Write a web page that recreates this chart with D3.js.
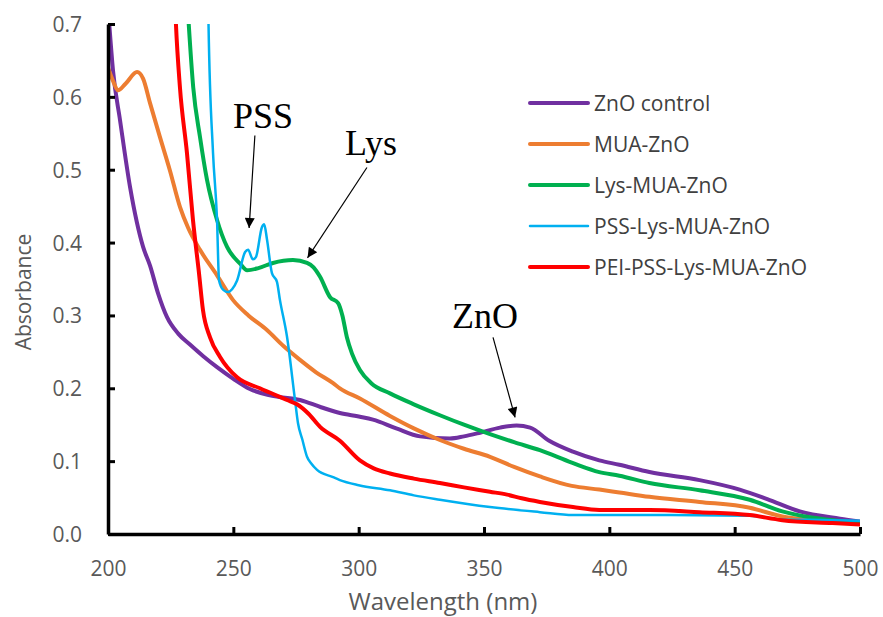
<!doctype html>
<html lang="en">
  <head>
    <meta charset="utf-8">
    <title>Absorbance spectra</title>
    <style>
    body { margin: 0; background: #fff; }
    .tick text { font-family: "Open Sans", sans-serif; fill: #595959; }
    .specLine { fill: none; stroke-linejoin: round; stroke-linecap: round; }
    </style>
  </head>
  <body>
    <div id="content"></div>

    <script src="https://d3js.org/d3.v7.min.js"></script>
    <script type="text/javascript">
    var w = 883;
    var h = 617;

    // wavelength (nm), absorbance pairs
    var znoControl = [[200.5,0.70],[202,0.636],[204.8,0.568],[208.8,0.476],[214,0.394],[216.8,0.368],[220,0.33],
      [223.5,0.298],[228,0.275],[232.7,0.260],[238,0.244],[243.5,0.229],[250,0.213],[256.6,0.199],[265,0.19],
      [276.6,0.184],[285,0.174],[292.5,0.166],[300.5,0.161],[305.7,0.157],[315,0.145],[324.5,0.134],[336.4,0.131],
      [342,0.134],[348.4,0.139],[356.4,0.146],[363,0.149],[368.4,0.146],[376,0.128],[385.5,0.113],[396,0.101],
      [404,0.095],[416,0.085],[436,0.074],[452,0.061],[463,0.048],[476,0.031],[492,0.021],[500,0.017]];

    var muaZno = [[200,0.64],[202,0.622],[204,0.609],[207,0.618],[211.6,0.634],[214,0.625],[216.8,0.591],
      [220.7,0.545],[224.7,0.499],[228.7,0.449],[232,0.42],[236.7,0.39],[243.5,0.355],[249.9,0.321],[256,0.30],
      [263.4,0.280],[270,0.258],[276.6,0.239],[283,0.222],[289.8,0.207],[292.5,0.200],[300.5,0.186],[312.5,0.162],
      [322,0.145],[332.4,0.129],[342,0.117],[352.4,0.106],[362,0.092],[372.3,0.079],[385,0.066],[396,0.061],
      [404,0.057],[416,0.051],[436,0.044],[456,0.036],[469,0.024],[480,0.019],[489,0.016],[500,0.015]];

    var lysMuaZno = [[230.8,0.78],[232.2,0.70],[234,0.613],[236.7,0.545],[239.5,0.486],[243.5,0.431],[247.5,0.394],
      [252.7,0.371],[255.5,0.362],[260,0.365],[265.8,0.372],[273.8,0.376],[279.4,0.372],[282,0.366],[284.6,0.353],
      [288.6,0.325],[291.8,0.317],[293.5,0.30],[295.3,0.27],[297.3,0.248],[300.5,0.225],[305,0.207],[312.5,0.193],
      [322,0.178],[332.4,0.163],[342,0.150],[352.4,0.137],[362,0.126],[372.3,0.115],[385,0.098],[396,0.085],
      [404,0.080],[416,0.070],[436,0.060],[456,0.047],[469,0.031],[480,0.023],[489,0.019],[500,0.015]];

    var pssLysMuaZno = [[239.8,0.78],[240.1,0.70],[241.9,0.523],[243.5,0.431],[244.3,0.348],[246,0.335],[247.9,0.332],
      [249.5,0.336],[251.5,0.348],[254.7,0.387],[255.9,0.390],[257.8,0.377],[259,0.38],[261.4,0.421],[262.3,0.425],
      [263.4,0.405],[265.4,0.358],[267.4,0.346],[268.6,0.321],[271.4,0.271],[274.6,0.184],[275.8,0.152],[277.5,0.13],
      [279.4,0.106],[281,0.097],[283.4,0.088],[289.8,0.078],[292.5,0.074],[300,0.067],[312.5,0.060],[322,0.053],
      [332.4,0.047],[352.4,0.037],[372.3,0.030],[385.5,0.026],[404,0.026],[424,0.026],[456,0.025],[469,0.020],
      [489,0.019],[500,0.018]];

    var peiPssLysMuaZno = [[226.4,0.76],[227.1,0.70],[228.7,0.613],[231.5,0.523],[233.9,0.431],[236.3,0.358],
      [237.9,0.307],[240.7,0.270],[244.7,0.243],[251.5,0.215],[260.6,0.200],[271.4,0.184],[275.4,0.178],[280,0.165],
      [284.6,0.147],[292.5,0.128],[300.5,0.101],[306,0.090],[312.5,0.083],[322,0.076],[332.4,0.070],[342,0.064],
      [352.4,0.058],[359.2,0.054],[365,0.049],[372.3,0.044],[385.5,0.037],[396,0.033],[416,0.033],[436,0.030],
      [456,0.026],[469,0.019],[489,0.015],[500,0.013]];

    var seriesNames = ['ZnO control', 'MUA-ZnO', 'Lys-MUA-ZnO', 'PSS-Lys-MUA-ZnO', 'PEI-PSS-Lys-MUA-ZnO'];
    var seriesData = [znoControl, muaZno, lysMuaZno, pssLysMuaZno, peiPssLysMuaZno];
    var seriesColors = ['#7030a0', '#ed7d31', '#00b050', '#00b0f0', '#ff0000'];
    var seriesWidths = [4, 4, 4, 2.5, 4];

    var xTicks = [200, 250, 300, 350, 400, 450, 500];
    var yTicks = [0, 0.1, 0.2, 0.3, 0.4, 0.5, 0.6, 0.7];

    // annotation labels: text anchor, arrow tail and arrow tip in data units
    var annLabels = ['PSS', 'Lys', 'ZnO'];
    var annText = [[249.9, 0.557], [294.5, 0.520], [337.2, 0.283]];
    var annFrom = [[258.6, 0.547], [303.3, 0.503], [353.6, 0.270]];
    var annTo = [[256.3, 0.420], [279.6, 0.379], [362.4, 0.160]];

    var svg = d3.select('#content')
                .append('svg')
                .attr('width', w)
                .attr('height', h);

    var xScale = d3.scaleLinear()
                   .domain([200, 500])
                   .range([108, 860]);

    var yScale = d3.scaleLinear()
                   .domain([0, 0.7])
                   .range([534, 24]);

    svg.append('clipPath')
      .attr('id', 'chart-area')
      .append('rect')
      .attr('x', 108)
      .attr('y', 24)
      .attr('width', 752)
      .attr('height', 510);

    var line = d3.line()
                 .x(d => xScale(d[0]))
                 .y(d => yScale(d[1]))
                 .curve(d3.curveMonotoneX);

    svg.append('g')
      .attr('clip-path', 'url(#chart-area)')
      .selectAll('path')
      .data(seriesData)
      .enter()
      .append('path')
      .attr('class', 'specLine')
      .attr('d', line)
      .attr('stroke', (d, i) => seriesColors[i])
      .attr('stroke-width', (d, i) => seriesWidths[i]);

    // axes, ticks pointing into the plot
    var xAxis = d3.axisBottom(xScale)
                  .tickValues(xTicks)
                  .tickSizeInner(-7)
                  .tickSizeOuter(0)
                  .tickPadding(27);

    var yAxis = d3.axisLeft(yScale)
                  .tickValues(yTicks)
                  .tickFormat(d3.format('.1f'))
                  .tickSizeInner(-7)
                  .tickSizeOuter(0)
                  .tickPadding(26);

    var gx = svg.append('g')
      .attr('transform', `translate(0, ${yScale(0)})`)
      .call(xAxis);

    var gy = svg.append('g')
      .attr('transform', `translate(${xScale(200)}, 0)`)
      .call(yAxis);

    [gx, gy].forEach(g => {
      g.select('.domain').attr('stroke', '#000').attr('stroke-width', 3.5);
      g.selectAll('.tick line').attr('stroke', '#000').attr('stroke-width', 3);
      g.selectAll('.tick text').style('font-size', '21px');
    });
    gy.selectAll('.tick text').attr('dy', '0.36em');

    // axis titles
    svg.append('text')
      .attr('transform', 'translate(31, 292) rotate(-90)')
      .attr('text-anchor', 'middle')
      .style('font-family', '"Open Sans", sans-serif')
      .style('font-size', '21px')
      .style('fill', '#595959')
      .text('Absorbance');

    svg.append('text')
      .attr('x', 443)
      .attr('y', 610)
      .attr('text-anchor', 'middle')
      .style('font-family', '"Open Sans", sans-serif')
      .style('font-size', '24px')
      .style('fill', '#595959')
      .text('Wavelength (nm)');

    // legend
    var legend = svg.append('g')
      .attr('transform', 'translate(528, 103)');

    var legendRow = legend.selectAll('g')
      .data(seriesNames)
      .enter()
      .append('g')
      .attr('transform', (d, i) => `translate(0, ${i * 41})`);

    legendRow.append('line')
      .attr('x1', 2)
      .attr('x2', 60)
      .attr('stroke', (d, i) => seriesColors[i])
      .attr('stroke-width', (d, i) => seriesWidths[i])
      .attr('stroke-linecap', 'round');

    legendRow.append('text')
      .attr('x', 66)
      .attr('dy', '0.36em')
      .style('font-family', '"Open Sans", sans-serif')
      .style('font-size', '21px')
      .style('fill', '#404040')
      .text(d => d);

    // arrow annotations
    svg.append('defs')
      .append('marker')
      .attr('id', 'arrow')
      .attr('viewBox', '0 0 10 10')
      .attr('refX', 10)
      .attr('refY', 5)
      .attr('markerUnits', 'userSpaceOnUse')
      .attr('markerWidth', 12)
      .attr('markerHeight', 10)
      .attr('orient', 'auto')
      .append('path')
      .attr('d', 'M0,0 L10,5 L0,10 Z')
      .attr('fill', '#000');

    var ann = svg.append('g');

    ann.selectAll('line')
      .data(annLabels)
      .enter()
      .append('line')
      .attr('x1', (d, i) => xScale(annFrom[i][0]))
      .attr('y1', (d, i) => yScale(annFrom[i][1]))
      .attr('x2', (d, i) => xScale(annTo[i][0]))
      .attr('y2', (d, i) => yScale(annTo[i][1]))
      .attr('stroke', '#000')
      .attr('stroke-width', 1.2)
      .attr('marker-end', 'url(#arrow)');

    ann.selectAll('text')
      .data(annLabels)
      .enter()
      .append('text')
      .attr('x', (d, i) => xScale(annText[i][0]))
      .attr('y', (d, i) => yScale(annText[i][1]))
      .style('font-family', '"Liberation Serif", "Times New Roman", serif')
      .style('font-size', '36px')
      .style('fill', '#000')
      .text(d => d);
    </script>
  </body>
</html>
